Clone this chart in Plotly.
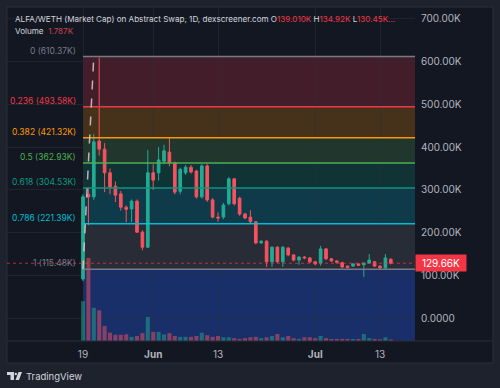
import plotly.graph_objects as go

# ---------------- data (values in K) ----------------
dates = [
    "2025-05-19", "2025-05-20", "2025-05-21", "2025-05-22", "2025-05-23", "2025-05-24",
    "2025-05-25", "2025-05-26", "2025-05-27", "2025-05-28", "2025-05-29", "2025-05-30",
    "2025-05-31", "2025-06-01", "2025-06-02", "2025-06-03", "2025-06-04", "2025-06-05",
    "2025-06-06", "2025-06-07", "2025-06-08", "2025-06-09", "2025-06-10", "2025-06-11",
    "2025-06-12", "2025-06-13", "2025-06-14", "2025-06-15", "2025-06-16", "2025-06-17",
    "2025-06-18", "2025-06-19", "2025-06-20", "2025-06-21", "2025-06-22", "2025-06-23",
    "2025-06-24", "2025-06-25", "2025-06-26", "2025-06-27", "2025-06-28", "2025-06-29",
    "2025-06-30", "2025-07-01", "2025-07-02", "2025-07-03", "2025-07-04", "2025-07-05",
    "2025-07-06", "2025-07-07", "2025-07-08", "2025-07-09", "2025-07-10", "2025-07-11",
    "2025-07-12", "2025-07-13", "2025-07-14", "2025-07-15",
]
opens = [93, 290, 284, 414, 395, 340, 309, 291, 260, 256, 274, 202, 167, 340, 340, 367,
         388, 363, 297, 340, 353, 344, 284, 356, 277, 237, 237, 268, 326, 281, 244, 237,
         226, 177, 181, 133, 167, 133, 165, 149, 137, 144, 142, 133, 130, 163, 140, 135,
         131, 123, 123, 128, 126, 130, 133, 123, 119, 139.01]
highs = [290, 305, 430, 608, 409, 350, 320, 298, 264, 278, 278, 206, 393, 360, 400, 405,
         421, 366, 352, 358, 358, 347, 360, 360, 281, 248, 270, 330, 328, 284, 247, 253,
         228, 183, 183, 169, 169, 169, 167, 150, 146, 146, 144, 135, 170, 165, 142, 136,
         133, 124, 130, 130, 132, 151, 135, 125, 151, 141]
lows = [88, 218, 277, 380, 295, 290, 272, 252, 225, 225, 200, 160, 165, 300, 322, 360,
        355, 290, 290, 335, 338, 280, 280, 272, 234, 226, 232, 264, 264, 240, 232, 222,
        174, 175, 121, 121, 130, 121, 146, 134, 126, 139, 130, 125, 124, 137, 133, 129,
        119, 118, 121, 123, 98, 128, 121, 117, 117, 127]
closes = [284, 284, 412, 395, 340, 307, 288, 260, 255, 274, 202, 167, 340, 323, 370, 391,
          363, 295, 348, 353, 342, 284, 356, 277, 237, 235, 265, 326, 268, 244, 235, 226,
          177, 181, 133, 167, 133, 167, 149, 137, 144, 142, 133, 128, 163, 140, 135, 132,
          121, 120, 128, 125, 130, 137, 123, 119, 142, 129.66]
volumes = [48, 100, 40, 37, 18, 10, 7.5, 7.5, 8, 5, 6, 9.5, 29, 11, 11, 8, 9.5, 6, 5, 5,
           5, 6, 10, 7, 5, 6, 4.5, 4.5, 3.5, 2.5, 3.5, 4.5, 5, 3.5, 4.5, 6, 8.5, 4.5, 6,
           3.5, 2.5, 4.5, 4.5, 3.5, 6, 3.5, 2.5, 2.5, 2.5, 2.5, 2.5, 2.5, 8.5, 3.5, 2.5,
           2, 4.5, 1.787]

fib_high = 610.37
fib_low = 115.48
fib_ratios = [0, 0.236, 0.382, 0.5, 0.618, 0.786, 1]
fib_colors = ["#787b86", "#f23645", "#ff9800", "#4caf50", "#089981", "#00bcd4", "#787b86"]
fib_fill_rgb = ["242,54,69", "255,152,0", "76,175,80", "8,153,129", "0,188,212",
                "120,123,134", "41,98,255"]
fib_start = "2025-05-19"
trend_end = "2025-05-21"

price_ticks = [0, 100, 200, 300, 400, 500, 600, 700]
price_tick_text = ["0.0000", "100.00K", "200.00K", "300.00K", "400.00K", "500.00K",
                   "600.00K", "700.00K"]
date_ticks = ["2025-05-19", "2025-06-01", "2025-06-13", "2025-07-01", "2025-07-13"]
date_tick_text = ["19", "<b>Jun</b>", "13", "<b>Jul</b>", "13"]
last_price = 129.66
header_open, header_high, header_low = "139.010K", "134.92K", "130.45K"

# ---------------- styling / geometry ----------------
W, H = 500, 388
L, R, T, B = 7, 415, 7, 341          # plot area in pixels
FRAME_R, FRAME_B = 493, 363
UP, DOWN = "#22ab94", "#f7525f"
CHART_BG = "#131722"
OUTER_BG = "#1e222d"
TXT = "#d1d4dc"
AX = "#b2b5be"
FONT = "Inter"
X_RANGE = ["2025-05-04 22:13", "2025-07-19 11:31"]
Y_RANGE = [-51.2, 725.6]


def px(x):
    return (x - L) / (R - L)


def py(y):
    return (B - y) / (B - T)


fig = go.Figure()

fig.add_trace(go.Bar(
    x=dates, y=volumes, yaxis="y2",
    marker=dict(color=["rgba(34,171,148,0.5)" if c >= o else "rgba(247,82,95,0.5)"
                       for o, c in zip(opens, closes)], line=dict(width=0)),
    hoverinfo="skip",
))

fig.add_trace(go.Candlestick(
    x=dates, open=opens, high=highs, low=lows, close=closes,
    increasing=dict(line=dict(color=UP, width=1), fillcolor=UP),
    decreasing=dict(line=dict(color=DOWN, width=1), fillcolor=DOWN),
    whiskerwidth=0, hoverinfo="skip",
))

shapes = []
# chart frame
shapes.append(dict(type="rect", xref="paper", yref="paper", x0=px(L), x1=px(FRAME_R),
                   y0=py(FRAME_B), y1=py(T), fillcolor=CHART_BG,
                   line=dict(color="#2a2e39", width=1), layer="below"))
# fib fills
levels = [fib_high - r * (fib_high - fib_low) for r in fib_ratios]
for i, rgb in enumerate(fib_fill_rgb):
    top = levels[i]
    bot = levels[i + 1] if i + 1 < len(levels) else Y_RANGE[0] - 10
    alpha = 0.22 if i < 6 else 0.32
    shapes.append(dict(type="rect", xref="x", yref="y", x0=fib_start, x1=X_RANGE[1],
                       y0=bot, y1=top, fillcolor=f"rgba({rgb},{alpha})",
                       line=dict(width=0), layer="below"))
# fib lines
for lv, col in zip(levels, fib_colors):
    shapes.append(dict(type="line", xref="x", yref="y", x0=fib_start, x1=X_RANGE[1],
                       y0=lv, y1=lv, line=dict(color=col, width=1.5), layer="above"))
# fib trend line (dashed)
shapes.append(dict(type="line", xref="x", yref="y", x0=fib_start, x1=trend_end,
                   y0=fib_low, y1=fib_high,
                   line=dict(color="rgba(225,200,210,0.85)", width=1.5, dash="dash"),
                   layer="above"))
# last price dotted line
shapes.append(dict(type="line", xref="paper", yref="y", x0=0, x1=1, y0=last_price,
                   y1=last_price, line=dict(color="rgba(242,54,69,0.7)", width=1, dash="dot"),
                   layer="above"))
# x-axis separator
shapes.append(dict(type="line", xref="paper", yref="paper", x0=px(L), x1=px(FRAME_R),
                   y0=0, y1=0, line=dict(color="#2a2e39", width=1), layer="above"))

# TradingView logo glyph
LOGO = "#d1d4dc"
shapes.append(dict(type="path", xref="paper", yref="paper", layer="above",
                   path=f"M {px(7)},{py(372)} L {px(14)},{py(372)} L {px(14)},{py(380)} "
                        f"L {px(10.5)},{py(380)} L {px(10.5)},{py(375)} L {px(7)},{py(375)} Z",
                   fillcolor=LOGO, line=dict(width=0)))
shapes.append(dict(type="circle", xref="paper", yref="paper", layer="above",
                   x0=px(14.6), x1=px(17), y0=py(375.2), y1=py(372.8),
                   fillcolor=LOGO, line=dict(width=0)))
shapes.append(dict(type="path", xref="paper", yref="paper", layer="above",
                   path=f"M {px(18.5)},{py(372)} L {px(22)},{py(372)} L {px(19)},{py(380)} "
                        f"L {px(15.5)},{py(380)} Z",
                   fillcolor=LOGO, line=dict(width=0)))

annotations = []
# fib labels
for r, lv, col in zip(fib_ratios, levels, fib_colors):
    rs = f"{r:g}"
    annotations.append(dict(xref="x", yref="y", x=fib_start, y=lv, xanchor="right",
                            yanchor="middle", xshift=-5, yshift=6, showarrow=False,
                            text=f"{rs} ({lv:.2f}K)",
                            font=dict(family=FONT, size=8.5, color=col)))
# header
red = "#f23645"
annotations.append(dict(
    xref="paper", yref="paper", x=px(12.5), y=py(19), xanchor="left", yanchor="middle",
    showarrow=False, font=dict(family=FONT, size=8.1, color=TXT),
    text=("ALFA/WETH (Market Cap) on Abstract Swap, 1D, dexscreener.com "
          f"O<span style='color:{red}'>{header_open}</span> H<span style='color:{red}'>{header_high}</span>"
          f" L<span style='color:{red}'>{header_low}...</span>")))
annotations.append(dict(
    xref="paper", yref="paper", x=px(12.5), y=py(30.5), xanchor="left", yanchor="middle",
    showarrow=False, font=dict(family=FONT, size=8.1, color=TXT),
    text=f"Volume  <span style='color:#c8434e'>{volumes[-1]:.3f}K</span>"))
# last price label
annotations.append(dict(
    xref="paper", yref="y", x=1, y=last_price, xanchor="left", yanchor="middle",
    showarrow=False, text=f"{last_price:.2f}K", bgcolor="#f23645", borderpad=2,
    width=46, font=dict(family=FONT, size=10, color="#ffffff")))
# TradingView wordmark
annotations.append(dict(
    xref="paper", yref="paper", x=px(23.5), y=py(376), xanchor="left", yanchor="middle",
    showarrow=False, text="TradingView", font=dict(family=FONT, size=9.5, color=TXT)))

grid = "rgba(42,46,57,0.55)"
fig.update_layout(
    width=W, height=H,
    margin=dict(l=L, r=W - R, t=T, b=H - B, autoexpand=False),
    paper_bgcolor=OUTER_BG, plot_bgcolor=CHART_BG,
    showlegend=False, bargap=0.25,
    xaxis=dict(type="date", range=X_RANGE, rangeslider=dict(visible=False),
               tickmode="array", tickvals=date_ticks, ticktext=date_tick_text,
               showgrid=True, gridcolor=grid, gridwidth=1, zeroline=False,
               showline=False, ticks="", ticklabelstandoff=6,
               tickfont=dict(family=FONT, size=10, color=AX)),
    yaxis=dict(side="right", range=Y_RANGE, tickmode="array", tickvals=price_ticks,
               ticktext=price_tick_text, showgrid=True, gridcolor=grid, gridwidth=1,
               zeroline=False, showline=False, ticks="", ticklabelstandoff=5,
               tickfont=dict(family=FONT, size=10, color=AX)),
    yaxis2=dict(overlaying="y", range=[0, 402], visible=False, showgrid=False),
    shapes=shapes, annotations=annotations,
)

fig.write_html("out.html", config={"displayModeBar": False})
